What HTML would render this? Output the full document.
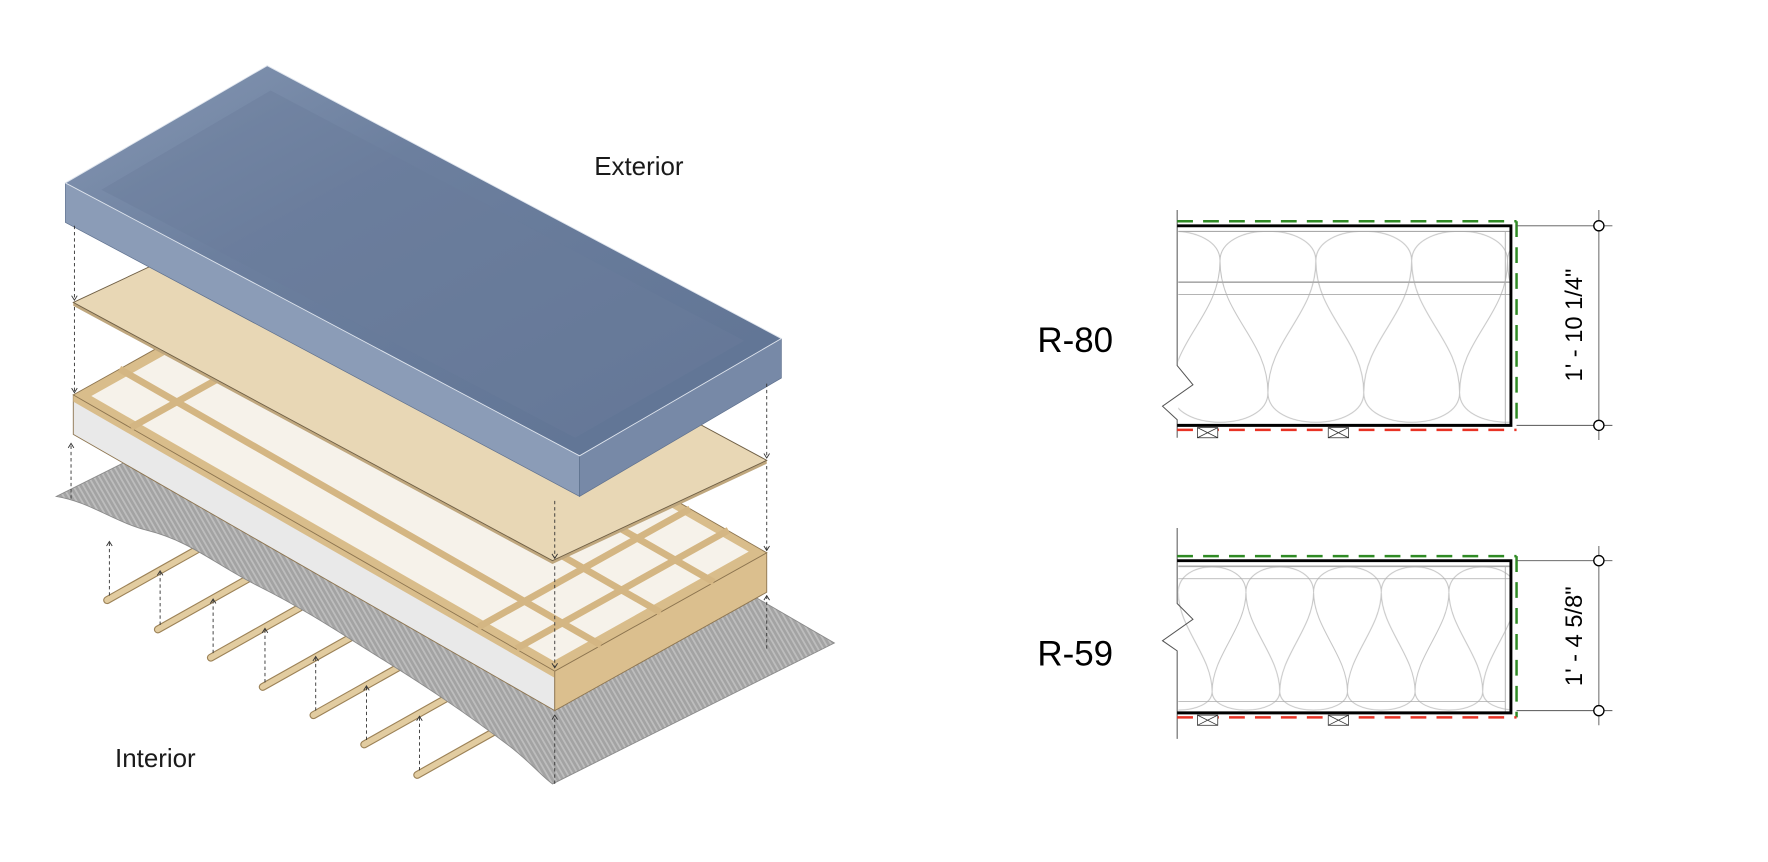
<!DOCTYPE html>
<html><head><meta charset="utf-8"><style>
html,body{margin:0;padding:0;background:#fff;}
svg{display:block;}
</style></head><body>
<svg width="1768" height="862" viewBox="0 0 1568 764" xmlns="http://www.w3.org/2000/svg">
<defs>
<pattern id="stripe" patternUnits="userSpaceOnUse" width="4" height="4" patternTransform="rotate(-30)">
<rect width="4" height="4" fill="#a3a3a3"/><rect width="1.6" height="4" fill="#bdbdbd"/>
</pattern>
<linearGradient id="blueTop" x1="0" y1="0" x2="1" y2="1">
<stop offset="0" stop-color="#8597b3"/><stop offset="0.35" stop-color="#6c7f9e"/><stop offset="1" stop-color="#5f7393"/>
</linearGradient>
<marker id="ah" markerWidth="7" markerHeight="7" refX="5" refY="3" orient="auto" markerUnits="userSpaceOnUse">
<path d="M1,0.5 L5,3 L1,5.5" fill="none" stroke="#333" stroke-width="0.8"/>
</marker>
<pattern id="ins59" patternUnits="userSpaceOnUse" x="1045" y="497" width="60" height="200">
<g fill="none" stroke="#c4c4c4" stroke-width="0.9">
<path d="M0,28 C0,-2 60,-2 60,28"/>
<path d="M0,28 C0,60 30,84 30,116"/>
<path d="M60,28 C60,60 30,84 30,116"/>
<path d="M30,116 C30,138 90,138 90,116"/>
<path d="M-30,116 C-30,138 30,138 30,116"/>
</g></pattern>
<pattern id="ins80" patternUnits="userSpaceOnUse" x="997" y="200" width="85" height="300">
<g fill="none" stroke="#c4c4c4" stroke-width="0.9">
<path d="M0,31 C0,-4 85,-4 85,31"/>
<path d="M0,31 C0,80 42.5,100 42.5,148"/>
<path d="M85,31 C85,80 42.5,100 42.5,148"/>
<path d="M42.5,148 C42.5,183 127.5,183 127.5,148"/>
<path d="M-42.5,148 C-42.5,183 42.5,183 42.5,148"/>
</g></pattern>
</defs>

<!-- battens -->
<g stroke-linecap="round">
<g stroke="#9c8257" stroke-width="7">
<line x1="95" y1="532" x2="200" y2="473"/><line x1="140" y1="558" x2="245" y2="499"/>
<line x1="187" y1="583" x2="292" y2="524"/><line x1="233" y1="609" x2="338" y2="550"/>
<line x1="278" y1="634" x2="383" y2="575"/><line x1="323" y1="660" x2="428" y2="601"/>
<line x1="370" y1="687" x2="475" y2="628"/>
</g>
<g stroke="#e2cca0" stroke-width="5">
<line x1="95" y1="532" x2="200" y2="473"/><line x1="140" y1="558" x2="245" y2="499"/>
<line x1="187" y1="583" x2="292" y2="524"/><line x1="233" y1="609" x2="338" y2="550"/>
<line x1="278" y1="634" x2="383" y2="575"/><line x1="323" y1="660" x2="428" y2="601"/>
<line x1="370" y1="687" x2="475" y2="628"/>
</g></g>

<!-- membrane -->
<path d="M50,440 C80,445 100,462 130,470 C170,480 190,500 230,520 C270,540 300,560 340,585 C380,610 410,630 450,660 C470,675 480,688 490,695 L740,570 L300,315 Z" fill="url(#stripe)" stroke="#8a8a8a" stroke-width="0.8"/>

<!-- frame -->
<polygon points="65,350 492,595 492,630 65,385" fill="#e9e9e9" stroke="#8d7550" stroke-width="0.8"/>
<polygon points="65,350 492,595 492,601 65,356" fill="#d9bd8b"/>
<polygon points="492,595 680,490 680,525 492,630" fill="#dbbf8e" stroke="#8d7550" stroke-width="0.8"/>
<polygon points="65,350 253,245 680,490 492,595" fill="#d9bd8b" stroke="#8d7550" stroke-width="0.8"/>
<polygon points="81,351 254,254 664,489 491,586" fill="#f6f2ea"/>
<g stroke="#d4b683" stroke-width="6">
<line x1="106" y1="327" x2="533" y2="572"/>
<line x1="159" y1="298" x2="586" y2="543"/>
<line x1="206" y1="271" x2="633" y2="516"/>
<line x1="424" y1="556" x2="612" y2="451"/>
<line x1="458" y1="575" x2="646" y2="470"/>
<line x1="116" y1="379" x2="304" y2="274"/>
</g>

<!-- plywood -->
<polygon points="65,268 490,497 490,500 65,271" fill="#bfa77e"/>
<polygon points="490,497 680,408 680,411 490,500" fill="#bfa77e"/>
<polygon points="65,268 255,179 680,408 490,497" fill="#e8d7b5" stroke="#6f5f45" stroke-width="0.8"/>

<!-- blue box -->
<polygon points="58,162 514,404 514,440 58,197" fill="#8b9cb7" stroke="#5d6f8d" stroke-width="0.6"/>
<polygon points="514,404 693,300 693,335 514,440" fill="#7789a7" stroke="#5d6f8d" stroke-width="0.6"/>
<polygon points="58,162 237,58 693,300 514,404" fill="url(#blueTop)" stroke="#dfe5ee" stroke-width="0.8"/>
<polygon points="90,168 240,80 660,302 510,388" fill="#6a7d9c" opacity="0.45"/>

<!-- dashed arrows -->
<g stroke="#333" stroke-width="0.8" stroke-dasharray="3,2.5" fill="none" marker-end="url(#ah)">
<line x1="66" y1="200" x2="66" y2="266"/>
<line x1="66" y1="272" x2="66" y2="348"/>
<line x1="63" y1="442" x2="63" y2="393"/>
<line x1="492" y1="444" x2="492" y2="495"/>
<line x1="492" y1="502" x2="492" y2="592"/>
<line x1="492" y1="695" x2="492" y2="634"/>
<line x1="680" y1="340" x2="680" y2="406"/>
<line x1="680" y1="413" x2="680" y2="488"/>
<line x1="680" y1="575" x2="680" y2="528"/>
<line x1="97" y1="528" x2="97" y2="480"/>
<line x1="142" y1="554" x2="142" y2="506"/>
<line x1="189" y1="579" x2="189" y2="531"/>
<line x1="235" y1="605" x2="235" y2="557"/>
<line x1="280" y1="630" x2="280" y2="582"/>
<line x1="325" y1="656" x2="325" y2="608"/>
<line x1="372" y1="683" x2="372" y2="635"/>
</g>

<text x="527" y="155" font-family="Liberation Sans, sans-serif" font-size="23" fill="#1a1a1a">Exterior</text>
<text x="102" y="680" font-family="Liberation Sans, sans-serif" font-size="23" fill="#1a1a1a">Interior</text>

<!-- R-80 section -->
<text x="920" y="312" font-family="Liberation Sans, sans-serif" font-size="31" fill="#000">R-80</text>
<rect x="1045" y="205" width="295" height="172" fill="url(#ins80)"/>
<g stroke="#aaa" fill="none">
<line x1="1045" y1="205" x2="1340" y2="205" stroke-width="1"/>
<line x1="1045" y1="250" x2="1340" y2="250" stroke-width="1.4"/>
<line x1="1045" y1="261" x2="1340" y2="261" stroke-width="0.7"/>
<line x1="1335" y1="205" x2="1335" y2="377" stroke-width="0.8"/>
</g>
<polyline points="1044,186 1044,324 1058,341 1031,360 1044,372 1044,388" fill="none" stroke="#555" stroke-width="0.9"/>
<line x1="1044" y1="196" x2="1345" y2="196" stroke="#2f8a24" stroke-width="2.2" stroke-dasharray="14,9"/>
<line x1="1345" y1="196" x2="1345" y2="380" stroke="#2f8a24" stroke-width="2.2" stroke-dasharray="14,9"/>
<polyline points="1044,200 1340,200 1340,377 1044,377" fill="none" stroke="#000" stroke-width="2.6"/>
<line x1="1044" y1="381" x2="1345" y2="381" stroke="#e83325" stroke-width="2.2" stroke-dasharray="14,9"/>
<g fill="#fff" stroke="#333" stroke-width="0.7">
<rect x="1062" y="379" width="18" height="9"/><path d="M1062,379 L1080,388 M1080,379 L1062,388"/>
<rect x="1178" y="379" width="18" height="9"/><path d="M1178,379 L1196,388 M1196,379 L1178,388"/>
</g>
<g stroke="#555" stroke-width="0.8" fill="none">
<line x1="1345" y1="200" x2="1430" y2="200"/><line x1="1345" y1="377" x2="1430" y2="377"/>
<line x1="1418" y1="186" x2="1418" y2="390"/>
<circle cx="1418" cy="200" r="4.5" fill="#fff" stroke="#000" stroke-width="1.2"/>
<circle cx="1418" cy="377" r="4.5" fill="#fff" stroke="#000" stroke-width="1.2"/>
</g>
<text transform="translate(1403,288) rotate(-90)" text-anchor="middle" font-family="Liberation Sans, sans-serif" font-size="21" fill="#000">1' - 10 1/4"</text>

<!-- R-59 section -->
<text x="920" y="590" font-family="Liberation Sans, sans-serif" font-size="31" fill="#000">R-59</text>
<rect x="1045" y="502" width="295" height="130" fill="url(#ins59)"/>
<g stroke="#aaa" fill="none">
<line x1="1045" y1="502" x2="1340" y2="502" stroke-width="1.4"/>
<line x1="1045" y1="513" x2="1340" y2="513" stroke-width="0.7"/>
<line x1="1045" y1="622" x2="1335" y2="622" stroke-width="0.7"/>
<line x1="1335" y1="502" x2="1335" y2="632" stroke-width="0.8"/>
</g>
<polyline points="1044,468 1044,535 1058,549 1031,568 1044,577 1044,655" fill="none" stroke="#555" stroke-width="0.9"/>
<line x1="1044" y1="493" x2="1345" y2="493" stroke="#2f8a24" stroke-width="2.2" stroke-dasharray="14,9"/>
<line x1="1345" y1="493" x2="1345" y2="636" stroke="#2f8a24" stroke-width="2.2" stroke-dasharray="14,9"/>
<polyline points="1044,497 1340,497 1340,632 1044,632" fill="none" stroke="#000" stroke-width="2.6"/>
<line x1="1044" y1="636" x2="1345" y2="636" stroke="#e83325" stroke-width="2.2" stroke-dasharray="14,9"/>
<g fill="#fff" stroke="#333" stroke-width="0.7">
<rect x="1062" y="634" width="18" height="9"/><path d="M1062,634 L1080,643 M1080,634 L1062,643"/>
<rect x="1178" y="634" width="18" height="9"/><path d="M1178,634 L1196,643 M1196,634 L1178,643"/>
</g>
<g stroke="#555" stroke-width="0.8" fill="none">
<line x1="1345" y1="497" x2="1430" y2="497"/><line x1="1345" y1="630" x2="1430" y2="630"/>
<line x1="1418" y1="484" x2="1418" y2="643"/>
<circle cx="1418" cy="497" r="4.5" fill="#fff" stroke="#000" stroke-width="1.2"/>
<circle cx="1418" cy="630" r="4.5" fill="#fff" stroke="#000" stroke-width="1.2"/>
</g>
<text transform="translate(1403,564) rotate(-90)" text-anchor="middle" font-family="Liberation Sans, sans-serif" font-size="21" fill="#000">1' - 4 5/8"</text>
</svg>
</body></html>
